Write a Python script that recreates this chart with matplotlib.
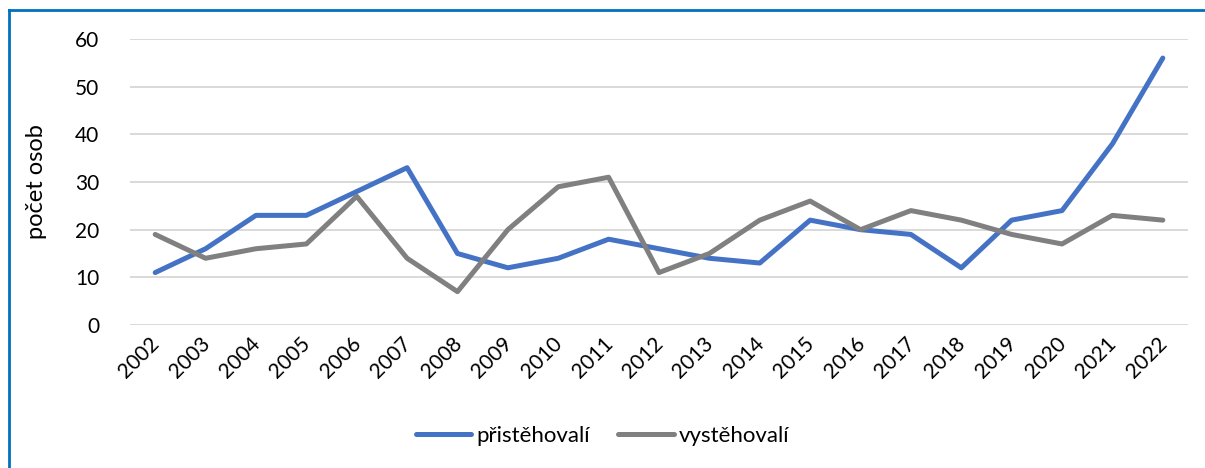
import matplotlib.pyplot as plt
import matplotlib.transforms as mtransforms
from matplotlib.lines import Line2D

roky = list(range(2002, 2023))
pristehovali = [11, 16, 23, 23, 28, 33, 15, 12, 14, 18, 16, 14, 13, 22, 20, 19, 12, 22, 24, 38, 56]
vystehovali = [19, 14, 16, 17, 27, 14, 7, 20, 29, 31, 11, 15, 22, 26, 20, 24, 22, 19, 17, 23, 22]

plt.rcParams['font.family'] = ['Lato', 'DejaVu Sans']

fig = plt.figure(figsize=(12.05, 4.68), dpi=100)
ax = fig.add_axes([130/1205, 1 - 325/468, (1188 - 130)/1205, (325 - 39)/468])

ax.plot(roky, pristehovali, color='#4472C4', lw=3.6, label='přistěhovalí', solid_capstyle='round')
ax.plot(roky, vystehovali, color='#808080', lw=3.6, label='vystěhovalí', solid_capstyle='round')

ax.set_xlim(2001.5, 2022.5)
ax.set_ylim(0, 60)
ax.set_yticks(range(0, 61, 10))
ax.set_xticks(roky)
ax.set_xticklabels([str(r) for r in roky], rotation=45, ha='right', rotation_mode='anchor')
ax.tick_params(axis='both', length=0, labelsize=15, colors='#000000')
ax.tick_params(axis='y', pad=22)
ax.tick_params(axis='x', pad=6)
posun = mtransforms.ScaledTranslation(-6/100, 0, fig.dpi_scale_trans)
for lbl in ax.get_xticklabels():
    lbl.set_transform(lbl.get_transform() + posun)
ax.grid(axis='y', color='#D9D9D9', lw=1.4)
ax.set_axisbelow(True)
for s in ax.spines.values():
    s.set_visible(False)

ax.set_ylabel('počet osob', fontsize=17)
ax.yaxis.set_label_coords(-0.078, 0.5)

ax.legend(loc='center', bbox_to_anchor=(0.5, (468 - 436) / 468), bbox_transform=fig.transFigure,
          ncol=2, frameon=False, fontsize=16, handlelength=2.5, handletextpad=0.2, columnspacing=1.3)

# modrý rámeček (vidět je jen levý a horní okraj)
fig.add_artist(Line2D([9/1205, 9/1205], [0, 1 - 10/468], color='#0070C0', lw=2, transform=fig.transFigure))
fig.add_artist(Line2D([9/1205, 1], [1 - 10/468, 1 - 10/468], color='#0070C0', lw=2, transform=fig.transFigure))

fig.savefig('out.png', dpi=100, facecolor='white')
